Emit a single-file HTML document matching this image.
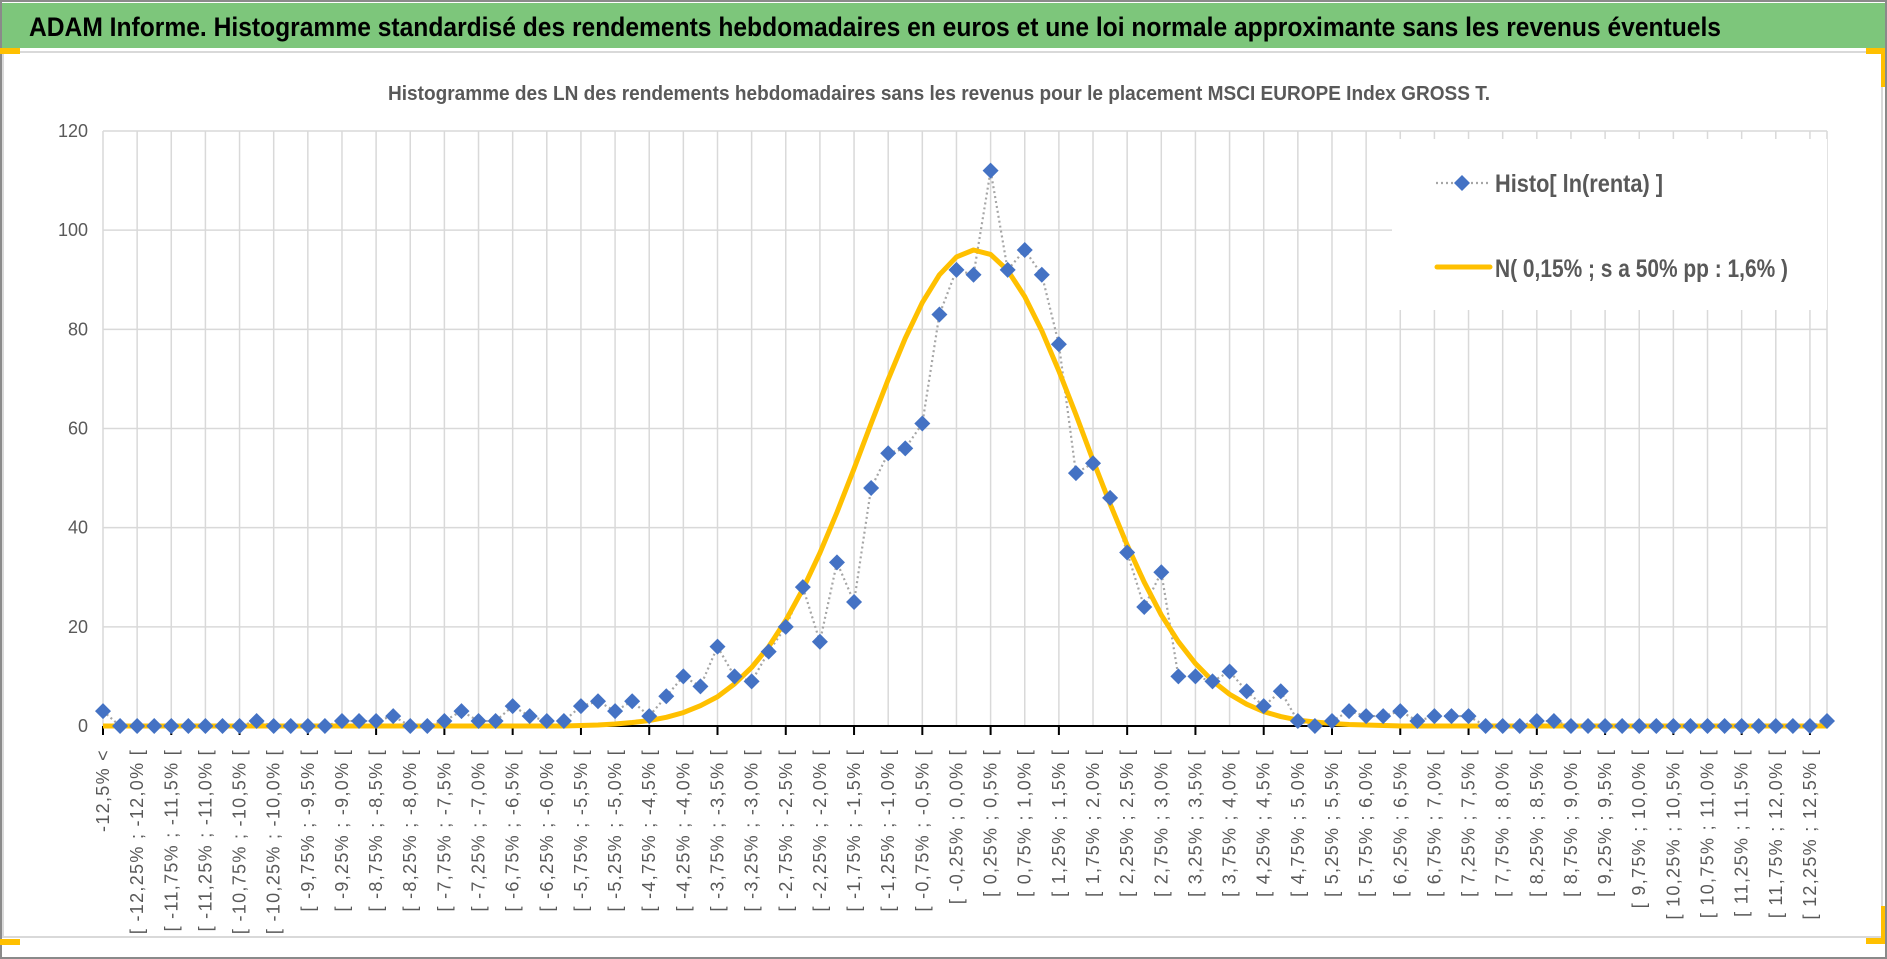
<!DOCTYPE html>
<html><head><meta charset="utf-8">
<style>
html,body{margin:0;padding:0;background:#fff;}
svg{display:block;}
text{font-family:"Liberation Sans",sans-serif;}
</style></head>
<body>
<svg id="chart" width="1887" height="959" viewBox="0 0 1887 959" xmlns="http://www.w3.org/2000/svg">
  <rect x="0" y="0" width="1887" height="959" fill="#fff"/>
  <rect x="1" y="1" width="1885" height="957" fill="none" stroke="#8a8a8a" stroke-width="2"/>
  <rect x="2" y="3" width="1883" height="45" fill="#7dc67b"/>
  <text x="29" y="36" font-size="27" font-weight="bold" fill="#000" textLength="1692" lengthAdjust="spacingAndGlyphs" style="font-family:'Liberation Sans Narrow','Liberation Sans',sans-serif">ADAM Informe. Histogramme standardisé des rendements hebdomadaires en euros et une loi normale approximante sans les revenus éventuels</text>
  <rect x="3" y="52" width="1879" height="885" fill="#fff" stroke="#d9d9d9" stroke-width="2"/>
  <rect x="0" y="48" width="20" height="6" fill="#ffc000"/>
  <rect x="1866" y="48" width="19" height="6" fill="#ffc000"/>
  <rect x="1881" y="48" width="4" height="39" fill="#ffc000"/>
  <rect x="0" y="939" width="20" height="6" fill="#ffc000"/>
  <rect x="1866" y="938" width="19" height="6" fill="#ffc000"/>
  <rect x="1881" y="906" width="4" height="38" fill="#ffc000"/>
  <text x="388" y="100" font-size="20" font-weight="bold" fill="#595959" textLength="1102" lengthAdjust="spacingAndGlyphs" style="font-family:'Liberation Sans Narrow','Liberation Sans',sans-serif">Histogramme des LN des rendements hebdomadaires sans les revenus pour le placement MSCI EUROPE Index GROSS T.</text>
  <g id="grid"></g>
  <g id="axes"></g>
  <g id="series"></g>
  <g id="legend"></g>
</svg>
<script>
const histValues = [3,0,0,0,0,0,0,0,0,1,0,0,0,0,1,1,1,2,0,0,1,3,1,1,4,2,1,1,4,5,3,5,2,6,10,8,16,10,9,15,20,28,17,33,25,48,55,56,61,83,92,91,112,92,96,91,77,51,53,46,35,24,31,10,10,9,11,7,4,7,1,0,1,3,2,2,3,1,2,2,2,0,0,0,1,1,0,0,0,0,0,0,0,0,0,0,0,0,0,0,0,1];
const normalValues = [0,0,0,0,0,0,0,0,0,0,0,0,0,0,0,0,0,0,0,0,0,0,0,0,0,0,0,0,0.1,0.2,0.4,0.7,1.1,1.75,2.7,4.1,5.9,8.5,11.8,16.0,21.3,27.6,34.9,43.1,51.9,61.0,69.9,78.2,85.4,91.0,94.6,96.0,95.1,91.9,86.6,79.7,71.6,62.8,53.6,44.8,36.5,29.0,22.4,17.0,12.6,9.1,6.4,4.4,2.9,1.9,1.2,0.8,0.5,0.3,0.2,0.1,0,0,0,0,0,0,0,0,0,0,0,0,0,0,0,0,0,0,0,0,0,0,0,0,0,0];
const yTicks = [0,20,40,60,80,100,120];
const seriesNames = ["Histo[ ln(renta) ]","N( 0,15% ; s a 50% pp : 1,6% )"];
const categories = (function(){const c=["-12,5% <"];for(let i=0;i<100;i++){const a=-12.5+i*0.25,b=a+0.25;const f=v=>(Number.isInteger(v*2)?v.toFixed(1):v.toFixed(2)).replace('.',',')+'%';c.push('[ '+f(a)+' ; '+f(b)+' [');}c.push("> 12,5%");return c;})();

const NS="http://www.w3.org/2000/svg";
const X0=103,X1=1827,Y0=726,YT=131,YMAX=120;
const xs=i=>X0+i*(X1-X0)/(categories.length-1);
const ys=v=>Y0-v*(Y0-YT)/YMAX;
function mk(tag,attrs,parent){const e=document.createElementNS(NS,tag);for(const k in attrs)e.setAttribute(k,attrs[k]);parent.appendChild(e);return e;}
const grid=document.getElementById('grid'),axes=document.getElementById('axes'),series=document.getElementById('series'),legend=document.getElementById('legend');

yTicks.forEach(v=>{
  const l=mk('line',{x1:X0,x2:X1,y1:ys(v),y2:ys(v),stroke:'#d9d9d9','stroke-width':1.5},grid);
  
  
  const t=mk('text',{x:88,y:ys(v)+6,'font-size':18,fill:'#595959','text-anchor':'end'},axes);
  t.textContent=v;
  
  
});
for(let i=0;i<categories.length;i+=2){
  const l=mk('line',{x1:xs(i),x2:xs(i),y1:YT,y2:Y0,stroke:'#d9d9d9','stroke-width':1.5},grid);
  
  
  const x=xs(i),y=749;
  const t=mk('text',{x:x+6,y:y,'font-size':18,'letter-spacing':1.3,fill:'#595959','text-anchor':'end',transform:'rotate(-90 '+(x+6)+' '+y+')'},axes);
  t.textContent=categories[i];
  
  
}
{const l=mk('line',{x1:X1,x2:X1,y1:YT,y2:Y0,stroke:'#d9d9d9','stroke-width':1.5},grid);

}
const ax=mk('line',{x1:X0,x2:X1,y1:Y0,y2:Y0,stroke:'#000','stroke-width':2},axes);


for(let i=0;i<categories.length;i+=4){
  const tk=mk('line',{x1:xs(i),x2:xs(i),y1:Y0,y2:Y0+9,stroke:'#000','stroke-width':2},axes);
  
  
}
const hp=mk('polyline',{points:histValues.map((v,i)=>xs(i)+','+ys(v)).join(' '),fill:'none',stroke:'#a6a6a6','stroke-width':2.2,'stroke-dasharray':'2 3'},series);


const np=mk('polyline',{points:normalValues.map((v,i)=>xs(i)+','+ys(v)).join(' '),fill:'none',stroke:'#ffc000','stroke-width':5,'stroke-linejoin':'round'},series);


histValues.forEach((v,i)=>{
  const x=xs(i),y=ys(v);
  const d=mk('polygon',{points:`${x},${y-8} ${x+8},${y} ${x},${y+8} ${x-8},${y}`,fill:'#4472c4'},series);
  
  
});
const lb=mk('rect',{x:1392,y:139,width:435,height:171,fill:'#fff'},legend);


const l1=mk('line',{x1:1436,x2:1488,y1:183,y2:183,stroke:'#a6a6a6','stroke-width':2.2,'stroke-dasharray':'2 3'},legend);


const l1d=mk('polygon',{points:'1462,175 1470,183 1462,191 1454,183',fill:'#4472c4'},legend);


const t1=mk('text',{x:1495,y:192,'font-size':25,'font-weight':'bold',fill:'#595959',style:"font-family:'Liberation Sans Narrow','Liberation Sans',sans-serif",textLength:168,lengthAdjust:'spacingAndGlyphs'},legend);
t1.textContent=seriesNames[0];


const l2=mk('line',{x1:1437,x2:1490,y1:267,y2:267,stroke:'#ffc000','stroke-width':5,'stroke-linecap':'round'},legend);


const t2=mk('text',{x:1495,y:277,'font-size':25,'font-weight':'bold',fill:'#595959',style:"font-family:'Liberation Sans Narrow','Liberation Sans',sans-serif",textLength:293,lengthAdjust:'spacingAndGlyphs'},legend);
t2.textContent=seriesNames[1];


</script>
</body></html>
